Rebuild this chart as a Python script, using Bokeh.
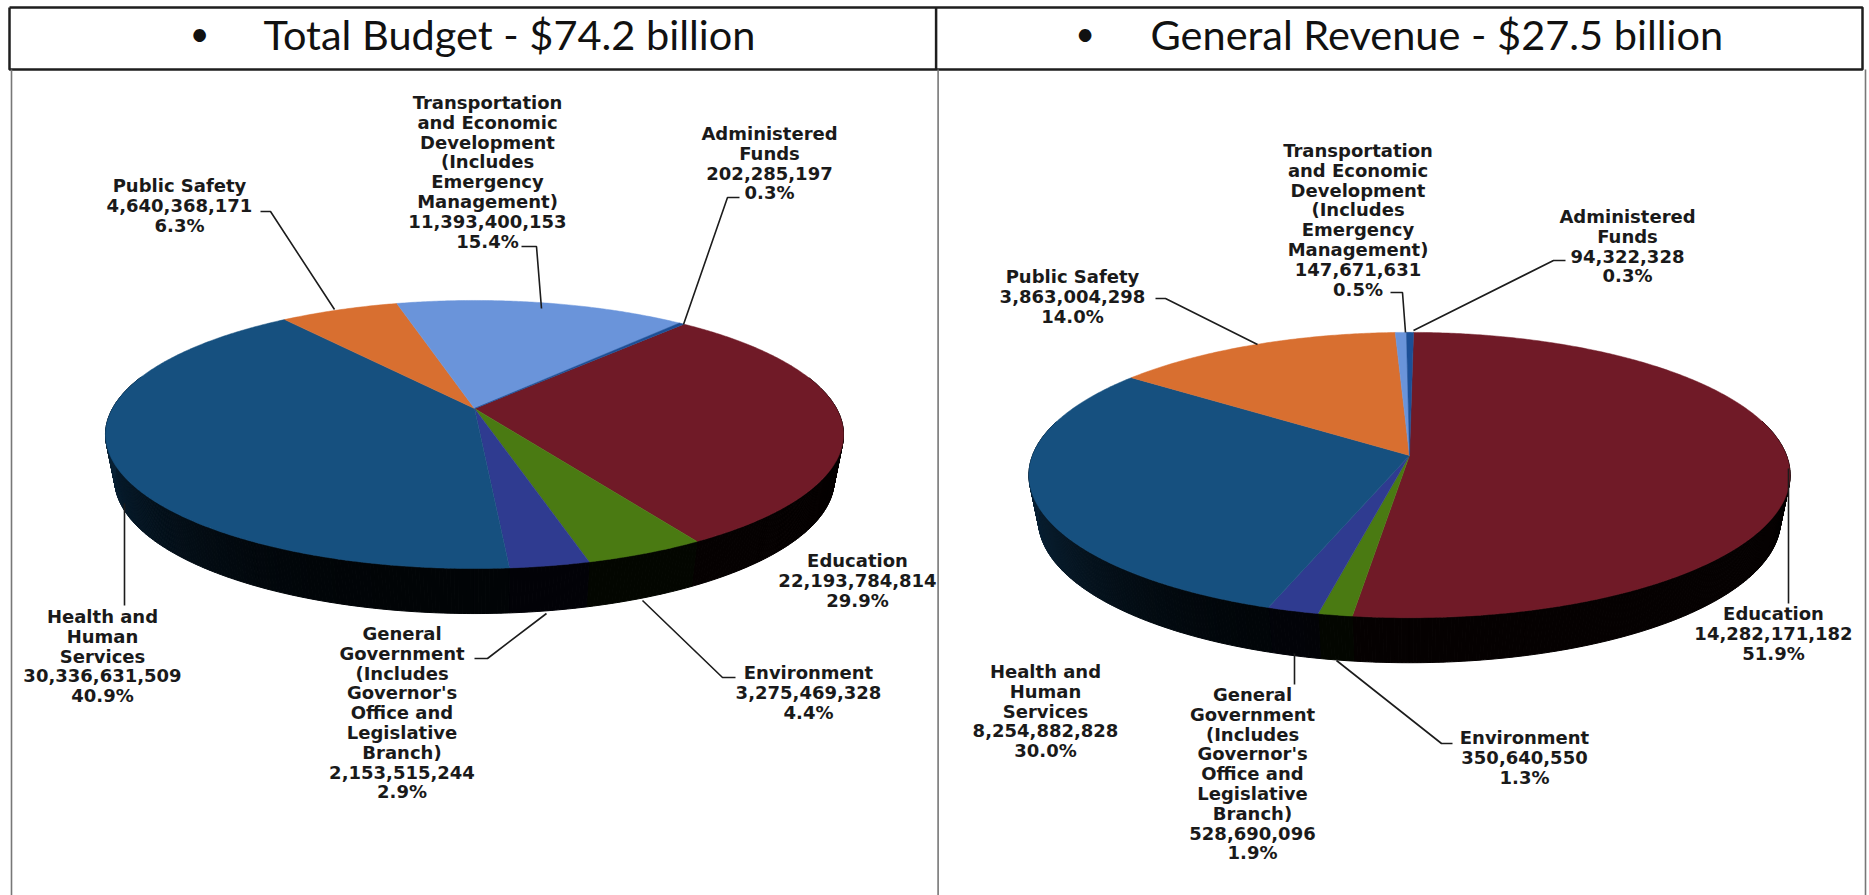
import math
from bokeh.plotting import figure
from bokeh.models import Range1d, ColumnDataSource
from bokeh.core.properties import value
from bokeh.embed import file_html
from bokeh.resources import INLINE

# ---------- data ----------
titles = ["Total Budget - $74.2 billion", "General Revenue - $27.5 billion"]
slice_names = ["Education", "Environment", "General Government", "Health and Human Services",
               "Public Safety", "Transportation and Economic Development", "Administered Funds"]
total_budget = [22193784814, 3275469328, 2153515244, 30336631509, 4640368171, 11393400153, 202285197]
general_revenue = [14282171182, 350640550, 528690096, 8254882828, 3863004298, 147671631, 94322328]
slice_colors = ["#701a27", "#4a7a12", "#2f3b90", "#16507f", "#d86f30", "#6a94da", "#1c4f96"]
# label name lines, one list per slice
name_lines = [
    ["Education"],
    ["Environment"],
    ["General", "Government", "(Includes", "Governor's", "Office and", "Legislative", "Branch)"],
    ["Health and", "Human", "Services"],
    ["Public Safety"],
    ["Transportation", "and Economic", "Development", "(Includes", "Emergency", "Management)"],
    ["Administered", "Funds"],
]

# ---------- layout (pixels of the page picture) ----------
WIDTH, HEIGHT = 1869, 895
pies = [
    dict(values=total_budget, cx=474, cy=408, a=362, b=129, k=0.194, start=41.5, depth=45,
         label_x=[857, 808, 401.5, 102, 179, 487, 769],
         label_y=[560, 672, 633, 616, 185, 102, 133],
         leaders=[
             ([642, 722, 735], [600, 677, 677]),
             ([474, 487, 546], [658, 658, 613]),
             ([124, 124], [503, 605]),
             ([260, 270, 334], [211, 211, 309]),
             ([521, 536, 541], [246, 246, 308]),
             ([739, 727, 683], [197, 197, 324]),
         ]),
    dict(values=general_revenue, cx=1409, cy=455, a=377, b=140, k=0.137, start=0.7, depth=45,
         label_x=[1773, 1524, 1252, 1045, 1072, 1357.5, 1627],
         label_y=[613, 737, 694, 671, 276, 150, 216],
         leaders=[
             ([1788, 1788], [468, 603]),
             ([1336, 1441, 1452], [660, 743, 743]),
             ([1294, 1294], [653, 684]),
             ([1155, 1165, 1257], [298, 298, 344]),
             ([1390, 1402, 1405], [292, 292, 332]),
             ([1565, 1553, 1413], [260, 260, 330]),
         ]),
]
LINE_PITCH = 19.8
LABEL_SIZE = "18px"
title_x = [263, 1150]
bullet_x = [199, 1084.6]


def project(theta_deg, pie, scale=1.0, dy=0.0):
    t = math.radians(theta_deg)
    u, v = math.sin(t), -math.cos(t)
    d = 1 - pie["k"] * v
    return pie["cx"] + scale * pie["a"] * u / d, pie["cy"] + dy + pie["b"] * v / d


def shade(color, f):
    r, g, b = (int(color[i:i + 2], 16) for i in (1, 3, 5))
    return "#%02x%02x%02x" % (int(r * f), int(g * f), int(b * f))


p = figure(width=WIDTH, height=HEIGHT, output_backend="svg", toolbar_location=None,
           x_range=Range1d(0, WIDTH), y_range=Range1d(HEIGHT, 0),
           min_border=0, outline_line_color=None, background_fill_color="white",
           border_fill_color="white")
p.axis.visible = False
p.grid.visible = False

for pie in pies:
    vals = pie["values"]
    total = sum(vals)
    top_x, top_y, top_c = [], [], []
    side_x, side_y, side_c = [], [], []
    ang = pie["start"]
    for val, col in zip(vals, slice_colors):
        sweep = 360 * val / total
        n = max(2, int(sweep * 2))
        thetas = [ang + sweep * i / n for i in range(n + 1)]
        rim = [project(t, pie) for t in thetas]
        top_x.append([pie["cx"]] + [q[0] for q in rim])
        top_y.append([pie["cy"]] + [q[1] for q in rim])
        top_c.append(col)
        for t0, t1 in zip(thetas[:-1], thetas[1:]):
            tm = math.radians((t0 + t1) / 2)
            if -math.cos(tm) < -0.25:
                continue
            a0, a1 = project(t0, pie), project(t1, pie)
            b0 = project(t0, pie, 0.975, pie["depth"])
            b1 = project(t1, pie, 0.975, pie["depth"])
            side_x.append([a0[0], a1[0], b1[0], b0[0]])
            side_y.append([a0[1], a1[1], b1[1], b0[1]])
            side_c.append(shade(col, 0.05 + 0.38 * max(0.0, -math.sin(tm)) ** 3))
        ang += sweep
    p.patches(side_x, side_y, fill_color=side_c, line_color=side_c, line_width=1)
    p.patches(top_x, top_y, fill_color=top_c, line_color=top_c, line_width=0.5)

    for xs, ys in pie["leaders"]:
        p.line(xs, ys, line_color="#1c1c1c", line_width=1.6)

    tx, ty, tt = [], [], []
    for names, val, lx, ly in zip(name_lines, vals, pie["label_x"], pie["label_y"]):
        lines = names + [f"{val:,}", f"{100 * val / total:.1f}%"]
        for i, s in enumerate(lines):
            tx.append(lx)
            ty.append(ly + i * LINE_PITCH)
            tt.append(s)
    p.text(x="x", y="y", text="t", source=ColumnDataSource(dict(x=tx, y=ty, t=tt)),
           text_font=value("DejaVu Sans"), text_font_style="bold", text_font_size=LABEL_SIZE,
           text_color="#1a1a1a", text_align="center", text_baseline="middle")

# title strip and panel rules
p.line([9, 1862, 1862, 9, 9], [7, 7, 69, 69, 7], line_color="#1e1e1e", line_width=2.5)
p.line([935.6, 935.6], [7, 69], line_color="#1e1e1e", line_width=2.5)
for x in (11, 937.6, 1865):
    p.line([x, x], [69, 895], line_color="#777777", line_width=1.6)

p.text(x=title_x, y=[33, 33], text=titles, text_font=value("Lato"), text_font_size="41.5px",
       text_color="#111111", text_align="left", text_baseline="alphabetic")
p.text(x=bullet_x, y=[32, 32], text=["\u2022", "\u2022"], text_font=value("Lato"), text_font_size="34px",
       text_color="#111111", text_align="center", text_baseline="alphabetic")

open("out.html", "w").write(file_html(p, INLINE))
